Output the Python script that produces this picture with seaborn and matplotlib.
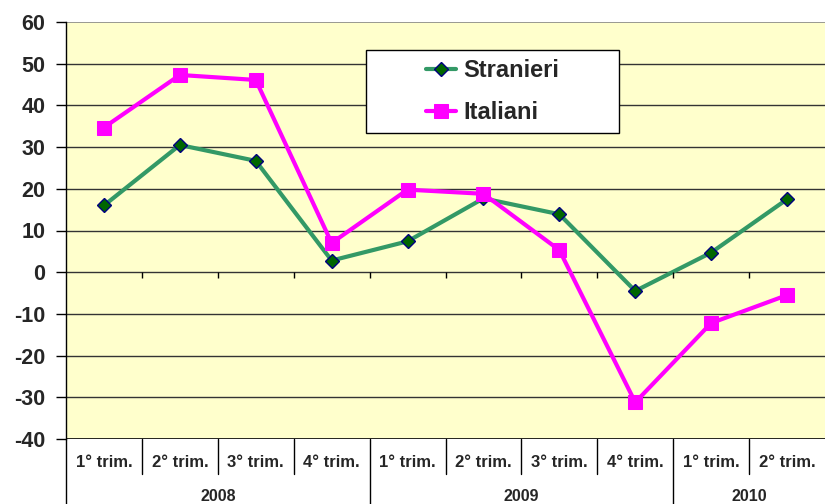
import numpy as np
import pandas as pd
import matplotlib.pyplot as plt
import matplotlib.transforms as mtransforms
from matplotlib.patches import Rectangle
import seaborn as sns

# data
quarters = ["1° trim.", "2° trim.", "3° trim.", "4° trim.",
            "1° trim.", "2° trim.", "3° trim.", "4° trim.",
            "1° trim.", "2° trim."]
years = ["2008", "2009", "2010"]
year_sizes = [4, 4, 2]
stranieri = [16.0, 30.5, 26.7, 2.8, 7.4, 17.7, 13.9, -4.5, 4.7, 17.5]
italiani = [34.7, 47.3, 46.1, 7.0, 19.8, 18.8, 5.3, -31.2, -12.2, -5.5]

df = pd.DataFrame({
    "pos": list(range(len(quarters))) * 2,
    "valore": stranieri + italiani,
    "serie": ["Stranieri"] * len(stranieri) + ["Italiani"] * len(italiani),
})

sns.set_style("white")
plt.rcParams["font.family"] = ["Liberation Sans", "DejaVu Sans"]
plt.rcParams["font.weight"] = "bold"
plt.rcParams["axes.unicode_minus"] = False

fig = plt.figure(figsize=(8.25, 5.04), dpi=100)
ax = fig.add_axes([66 / 825, 1 - 439 / 504, 1 - 66 / 825, 417 / 504])
ax.set_facecolor("#FFFFCC")

sns.lineplot(data=df[df.serie == "Stranieri"], x="pos", y="valore", ax=ax,
             color="#339966", lw=3, marker="D", markersize=7,
             markerfacecolor="#006600", markeredgecolor="#000080",
             markeredgewidth=1, label="Stranieri", sort=False)
sns.lineplot(data=df[df.serie == "Italiani"], x="pos", y="valore", ax=ax,
             color="#FF00FF", lw=3, marker="s", markersize=9.5,
             markerfacecolor="#FF00FF", markeredgecolor="#FF00FF",
             label="Italiani", sort=False)

n = len(quarters)
ax.set_xlim(-0.5, n - 0.5)
ax.set_ylim(-40, 60)
ax.set_yticks(np.arange(-40, 61, 10))
ax.tick_params(axis="y", length=7, width=1, color="black", direction="out",
               labelsize=15.5, left=True, pad=8)
for lab in ax.get_yticklabels():
    lab.set_fontweight("bold")
ax.set_xticks([])
ax.set_xlabel("")
ax.set_ylabel("")

# horizontal grid
for v in np.arange(-30, 51, 10):
    ax.axhline(v, color="#333333", lw=1, zorder=1)
ax.axhline(60, color="#888888", lw=1.2, zorder=1)

for side in ["right", "bottom", "top"]:
    ax.spines[side].set_visible(False)
ax.spines["left"].set_color("black")
ax.spines["left"].set_linewidth(1)
ax.axhline(-40, color="black", lw=1.2, zorder=1)

# small ticks on the zero line
bounds = np.arange(0.5, n - 0.5, 1)
ax.vlines(bounds, -1.3, 0, color="black", lw=1, zorder=2)

# two-level category axis
trans = mtransforms.blended_transform_factory(ax.transData, ax.transAxes)
year_ends = np.cumsum(year_sizes) - 0.5
for b in bounds:
    low = -0.156 if b in year_ends else -0.084
    ax.plot([b, b], [0, low], transform=trans, color="black", lw=1, clip_on=False)
ax.plot([-0.5, -0.5], [0, -0.156], transform=trans, color="black", lw=1, clip_on=False)
for i, q in enumerate(quarters):
    ax.text(i, -0.057, q, transform=trans, ha="center", va="center",
            fontsize=12, fontweight="bold")
start = 0
for y, s in zip(years, year_sizes):
    ax.text(start + (s - 1) / 2, -0.139, y, transform=trans, ha="center",
            va="center", fontsize=11.5, fontweight="bold")
    start += s

# legend box
x0, x1 = (366 - 66) / 759, (619 - 66) / 759
y0, y1 = (439 - 133) / 417, (439 - 50) / 417
ax.add_patch(Rectangle((x0, y0), x1 - x0, y1 - y0, transform=ax.transAxes,
                       facecolor="white", edgecolor="black", lw=1, zorder=5))
leg = ax.legend(loc="center", bbox_to_anchor=((x0 + x1) / 2, (y0 + y1) / 2),
                frameon=False, prop={"size": 17, "weight": "bold"},
                handlelength=1.3, handletextpad=0.3, labelspacing=0.8,
                borderpad=0, borderaxespad=0)
leg.set_zorder(6)

fig.savefig("out.png", dpi=100)
